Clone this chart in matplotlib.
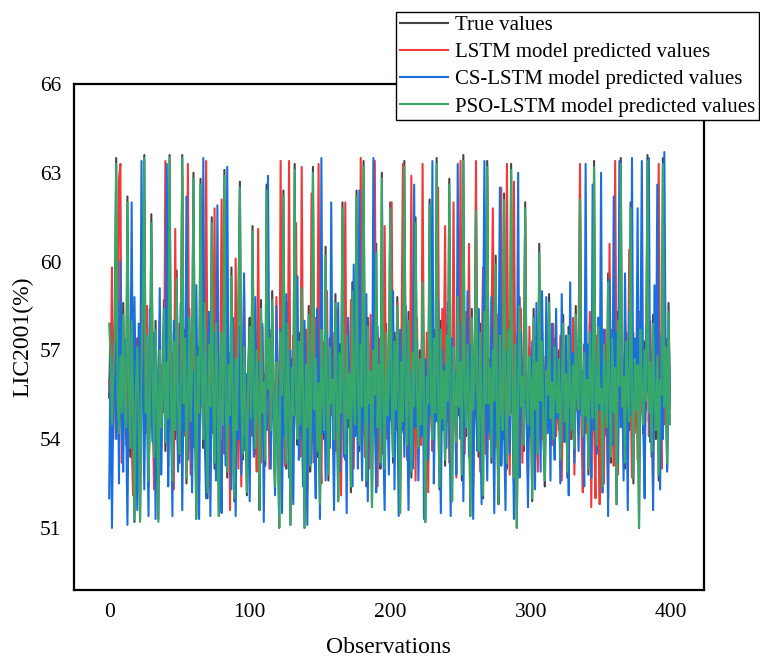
import matplotlib
matplotlib.use("Agg")
import matplotlib.pyplot as plt
import numpy as np

## Data (one decimal)
true_values = [
    55.4, 57.9, 54.2, 56.8, 58.1, 63.5, 55.0, 53.9, 57.2, 54.6, 58.6, 55.3, 54.1, 62.2, 56.0, 53.4, 58.3, 54.8, 51.2, 55.9,
    57.4, 54.3, 51.3, 56.1, 59.2, 63.6, 54.7, 57.8, 52.4, 55.2, 61.6, 56.3, 53.1, 58.0, 55.4, 51.3, 57.3, 54.1, 55.8, 58.7,
    53.6, 56.9, 54.4, 63.6, 55.1, 52.8, 57.6, 54.0, 59.7, 55.6, 53.2, 56.4, 63.6, 54.9, 57.7, 52.5, 55.8, 58.4, 54.3, 56.7,
    63.0, 55.2, 51.3, 57.1, 54.6, 62.8, 56.2, 53.7, 58.9, 55.0, 52.0, 57.5, 54.8, 61.5, 55.6, 53.0, 58.2, 56.4, 51.4, 55.8,
    57.9, 54.2, 63.1, 55.5, 52.7, 56.8, 54.5, 59.8, 55.3, 51.9, 57.0, 54.0, 58.6, 62.7, 55.2, 53.3, 57.4, 54.7, 52.1, 56.5,
    58.1, 54.4, 61.2, 55.9, 53.5, 57.3, 55.0, 51.6, 58.7, 54.6, 56.2, 53.1, 62.6, 55.4, 57.7, 54.0, 59.0, 55.5, 52.3, 56.9,
    54.3, 51.0, 57.9, 55.2, 62.4, 54.8, 53.0, 58.2, 55.6, 51.1, 56.7, 54.5, 63.3, 55.1, 53.8, 57.6, 54.2, 59.4, 55.7, 51.0,
    56.8, 54.1, 58.5, 52.9, 55.4, 63.2, 54.7, 57.0, 53.4, 56.2, 51.8, 58.0, 55.3, 54.0, 60.5, 55.8, 52.6, 57.4, 54.9, 56.3,
    53.7, 58.9, 55.1, 51.9, 57.2, 54.6, 62.0, 55.7, 53.3, 57.8, 54.4, 56.5, 52.2, 59.3, 55.0, 54.2, 62.4, 56.1, 53.6, 57.5,
    54.8, 63.4, 55.5, 52.4, 58.1, 54.9, 56.6, 51.7, 57.3, 55.2, 60.6, 54.1, 56.8, 53.0, 63.0, 55.6, 52.8, 57.9, 54.5, 56.0,
    62.0, 55.3, 53.2, 57.6, 54.7, 58.8, 55.0, 51.5, 56.9, 54.3, 63.4, 55.8, 53.6, 58.3, 55.1, 52.7, 57.2, 54.8, 61.5, 55.4,
    53.5, 57.0, 54.2, 59.6, 55.7, 51.2, 56.4, 54.9, 62.1, 55.2, 53.8, 57.7, 54.6, 63.5, 55.9, 52.3, 58.0, 54.4, 56.6, 53.1,
    57.8, 55.0, 62.8, 54.5, 51.9, 57.4, 55.6, 53.7, 59.1, 54.8, 56.9, 52.6, 63.6, 55.3, 54.1, 57.5, 55.8, 51.4, 58.4, 54.7,
    56.2, 61.9, 55.1, 53.4, 57.9, 54.3, 52.0, 58.6, 55.5, 63.4, 54.9, 56.7, 53.2, 57.3, 55.0, 60.2, 54.6, 51.8, 57.8, 55.4,
    54.0, 62.3, 55.7, 53.0, 58.0, 54.5, 63.3, 56.1, 52.5, 57.5, 51.0, 55.2, 58.8, 54.8, 56.4, 53.6, 62.0, 55.3, 54.2, 57.1,
    55.6, 51.9, 58.4, 54.7, 56.9, 53.3, 60.6, 55.0, 57.6, 54.1, 52.4, 56.6, 55.8, 58.9, 54.4, 56.2, 53.8, 57.4, 55.2, 54.6,
    57.0, 53.1, 55.9, 58.2, 54.3, 56.5, 52.7, 57.8, 55.4, 54.0, 56.8, 53.5, 58.5, 55.1, 54.7, 62.3, 55.8, 53.9, 57.2, 54.5,
    56.3, 52.8, 57.9, 55.2, 54.4, 63.4, 55.7, 53.6, 58.1, 54.9, 56.0, 52.2, 57.5, 55.3, 54.1, 59.6, 55.0, 53.2, 57.7, 54.6,
    56.7, 51.8, 58.3, 55.5, 63.5, 54.8, 56.4, 53.0, 57.6, 55.1, 54.3, 62.0, 55.9, 52.5, 57.0, 54.7, 56.8, 51.0, 58.0, 55.4,
    54.2, 57.3, 55.0, 63.6, 54.6, 56.9, 53.4, 58.2, 55.7, 54.0, 57.1, 52.6, 56.3, 55.2, 63.5, 54.8, 57.4, 53.0, 58.6, 55.2,
]

lstm_values = [
    56.0, 55.2, 59.8, 54.0, 57.0, 58.2, 55.4, 62.8, 63.3, 53.2, 55.8, 57.0, 53.8, 58.6, 54.6, 56.3, 54.0, 52.1, 55.2, 57.4,
    54.6, 55.8, 52.7, 57.0, 55.3, 62.0, 54.2, 58.5, 53.0, 56.1, 59.6, 54.8, 52.3, 57.1, 54.0, 55.9, 58.0, 53.6, 56.5, 54.9,
    63.4, 55.0, 53.1, 58.4, 54.3, 56.9, 52.3, 61.1, 55.0, 53.6, 57.9, 55.2, 62.9, 54.1, 56.6, 53.0, 63.3, 55.4, 52.8, 57.2,
    54.9, 58.6, 53.3, 56.0, 52.6, 60.3, 55.1, 57.4, 54.0, 63.4, 55.7, 52.4, 58.2, 54.7, 56.3, 61.8, 53.6, 57.0, 54.4, 55.6,
    62.1, 55.3, 53.5, 58.0, 54.1, 56.7, 51.6, 57.9, 55.2, 54.0, 60.1, 55.6, 53.0, 57.5, 52.4, 56.2, 59.0, 54.5, 55.8, 53.4,
    57.1, 55.0, 54.1, 58.3, 56.0, 52.9, 61.1, 54.6, 53.2, 57.8, 55.4, 54.3, 58.1, 56.5, 53.0, 57.2, 54.8, 55.9, 53.6, 58.8,
    55.3, 52.6, 63.4, 54.7, 56.9, 53.1, 58.6, 55.0, 63.4, 54.2, 52.0, 57.5, 55.6, 61.3, 54.1, 56.8, 53.4, 63.2, 55.2, 54.0,
    57.7, 52.3, 56.4, 55.0, 62.3, 54.6, 53.2, 58.1, 55.5, 63.3, 54.0, 52.5, 57.3, 55.8, 54.4, 59.0, 53.7, 56.1, 54.8, 57.6,
    55.0, 53.6, 58.4, 54.2, 56.7, 52.1, 57.2, 55.4, 62.0, 53.8, 56.3, 54.7, 58.7, 55.1, 53.0, 57.0, 54.6, 60.6, 55.3, 63.5,
    54.1, 56.8, 53.4, 57.9, 55.6, 53.0, 58.2, 54.5, 56.1, 63.4, 55.0, 52.4, 57.4, 54.8, 56.6, 53.5, 61.2, 55.2, 54.0, 57.7,
    55.5, 62.0, 53.9, 56.4, 54.3, 58.6, 55.1, 52.8, 57.3, 63.3, 54.5, 56.0, 53.3, 57.9, 55.4, 62.9, 54.0, 56.7, 52.6, 58.1,
    54.7, 56.2, 53.8, 63.3, 55.2, 54.1, 57.6, 52.2, 58.9, 55.0, 53.6, 57.2, 54.9, 56.5, 62.5, 54.3, 53.0, 58.4, 55.7, 61.2,
    54.6, 57.0, 53.2, 56.3, 54.8, 62.0, 55.5, 52.7, 57.9, 55.1, 63.4, 54.2, 56.6, 53.5, 58.3, 55.0, 60.6, 54.4, 57.1, 52.4,
    55.9, 63.4, 54.1, 57.3, 52.9, 56.4, 59.8, 54.6, 53.5, 62.9, 55.3, 54.0, 57.7, 61.8, 55.2, 53.7, 58.2, 54.8, 56.0, 62.5,
    54.2, 57.5, 53.0, 63.3, 55.6, 52.8, 58.0, 54.9, 62.7, 55.3, 53.4, 57.0, 54.5, 58.4, 53.2, 56.9, 61.5, 54.7, 52.6, 57.8,
    55.0, 53.4, 57.6, 54.2, 55.8, 52.9, 58.2, 55.4, 54.0, 56.8, 53.6, 57.3, 55.1, 54.4, 56.3, 53.8, 57.9, 55.7, 54.1, 56.1,
    54.3, 57.5, 52.6, 55.9, 54.8, 57.0, 53.3, 56.6, 54.0, 55.5, 58.1, 52.8, 56.4, 55.0, 57.4, 63.3, 54.5, 52.2, 57.0, 54.2,
    55.8, 53.0, 58.3, 51.7, 56.1, 54.6, 52.0, 57.5, 55.2, 51.8, 59.3, 54.3, 52.5, 57.7, 55.0, 52.0, 60.6, 54.7, 56.3, 53.1,
    63.4, 55.4, 52.8, 57.2, 54.6, 56.9, 53.4, 58.0, 55.1, 54.3, 60.4, 55.8, 52.7, 57.6, 54.2, 56.4, 53.3, 58.3, 54.9, 55.6,
    57.0, 53.8, 55.6, 62.5, 54.1, 58.0, 55.2, 52.3, 57.4, 54.7, 56.0, 63.3, 55.4, 53.0, 58.5, 54.5, 56.6, 53.8, 57.3, 55.0,
]

cs_lstm_values = [
    52.0, 56.8, 51.0, 55.6, 57.3, 54.0, 58.6, 52.5, 60.0, 54.6, 52.9, 57.4, 55.0, 51.1, 56.2, 54.4, 62.0, 53.6, 58.8, 55.1,
    51.6, 57.9, 54.2, 63.4, 55.7, 52.3, 56.9, 54.8, 51.4, 58.4, 55.2, 53.9, 57.6, 51.3, 56.3, 54.5, 59.1, 52.8, 55.4, 57.2,
    54.0, 63.3, 52.4, 56.6, 55.1, 51.4, 58.0, 54.6, 56.8, 52.9, 55.5, 58.6, 51.6, 56.0, 54.3, 62.2, 53.3, 57.1, 55.6, 52.2,
    56.3, 53.7, 59.2, 54.8, 51.3, 57.4, 55.2, 63.5, 54.0, 52.0, 56.7, 58.3, 51.4, 55.8, 54.2, 57.6, 52.6, 61.9, 55.0, 53.8,
    51.5, 57.2, 55.4, 53.1, 63.2, 54.5, 56.9, 52.3, 58.1, 55.7, 51.4, 56.4, 54.0, 57.8, 52.8, 55.5, 59.6, 53.6, 56.2, 54.7,
    51.9, 57.5, 55.1, 53.4, 58.8, 54.9, 56.6, 52.5, 55.3, 57.9, 51.2, 56.0, 54.3, 62.9, 55.6, 53.0, 57.1, 54.6, 52.1, 58.5,
    55.2, 53.6, 57.7, 51.5, 56.3, 54.1, 58.9, 55.4, 52.7, 57.0, 54.5, 51.8, 56.6, 55.0, 59.5, 53.3, 56.1, 54.7, 52.4, 58.0,
    54.6, 51.1, 57.3, 55.8, 53.2, 56.9, 54.0, 52.0, 58.4, 55.5, 51.3, 63.5, 54.2, 56.4, 52.6, 57.6, 55.1, 53.7, 62.0, 54.8,
    51.6, 56.7, 54.3, 58.6, 52.9, 55.6, 57.2, 53.4, 56.0, 51.5, 58.1, 54.9, 55.7, 52.4, 59.9, 54.1, 56.8, 53.0, 62.4, 55.3,
    52.6, 57.4, 54.5, 58.9, 51.9, 56.2, 55.0, 53.5, 63.5, 54.7, 52.2, 57.8, 55.4, 53.1, 58.3, 54.0, 51.6, 56.5, 55.2, 52.8,
    57.0, 54.6, 59.0, 52.3, 56.1, 55.3, 51.4, 57.7, 54.2, 56.8, 53.4, 58.5, 54.9, 51.6, 56.3, 55.7, 53.0, 62.6, 54.4, 57.3,
    52.6, 55.9, 54.1, 58.2, 51.3, 56.7, 55.0, 53.3, 57.5, 54.8, 63.4, 52.5, 56.0, 54.6, 58.7, 55.3, 51.5, 57.0, 54.3, 56.5,
    53.7, 58.6, 55.2, 51.4, 57.4, 54.9, 56.2, 52.8, 63.3, 55.5, 54.0, 57.9, 51.9, 56.4, 55.1, 59.0, 53.4, 57.2, 54.5, 51.3,
    56.8, 55.0, 53.6, 58.4, 54.7, 51.8, 57.1, 63.4, 55.3, 52.6, 56.5, 54.2, 58.8, 55.6, 51.5, 57.4, 54.0, 56.2, 62.5, 53.1,
    55.7, 54.4, 51.6, 57.0, 56.1, 53.5, 58.3, 55.0, 51.3, 56.7, 54.5, 63.0, 52.7, 57.6, 55.2, 53.9, 58.0, 54.8, 51.7, 56.4,
    54.1, 57.3, 55.5, 52.3, 58.6, 54.6, 56.0, 52.9, 59.0, 55.4, 53.6, 58.8, 54.2, 56.7, 52.6, 57.9, 55.0, 53.3, 58.4, 54.7,
    56.2, 52.5, 58.9, 55.3, 53.9, 57.5, 55.0, 52.1, 59.3, 54.4, 56.9, 53.2, 58.0, 55.5, 53.6, 57.1, 54.8, 56.3, 52.4, 63.3,
    54.6, 57.2, 55.8, 52.7, 62.6, 54.3, 56.4, 53.5, 58.1, 55.0, 63.0, 52.2, 57.7, 54.9, 56.6, 51.4, 59.4, 55.3, 53.8, 62.2,
    55.1, 57.6, 53.2, 63.4, 54.4, 56.1, 52.6, 59.6, 55.7, 51.6, 58.3, 54.8, 63.5, 53.6, 57.4, 55.2, 61.8, 52.8, 56.9, 63.4,
    54.5, 52.0, 57.8, 55.6, 63.5, 53.9, 56.3, 51.6, 59.2, 54.9, 62.6, 55.4, 52.3, 57.5, 54.0, 63.7, 56.1, 52.9, 58.0, 55.3,
]

pso_lstm_values = [
    57.9, 56.8, 54.5, 56.2, 57.6, 63.3, 55.3, 54.2, 56.8, 54.9, 58.2, 55.0, 54.4, 62.0, 55.7, 53.7, 58.0, 55.1, 51.3, 55.6,
    57.1, 54.6, 51.2, 56.4, 58.9, 63.5, 54.9, 57.5, 52.6, 55.0, 61.3, 56.0, 53.4, 57.7, 55.6, 51.2, 57.0, 54.4, 55.5, 58.4,
    53.9, 56.6, 54.7, 63.5, 55.4, 52.6, 57.3, 54.3, 59.4, 55.3, 53.5, 56.1, 63.5, 55.2, 57.4, 52.7, 55.5, 58.1, 54.6, 56.4,
    62.8, 55.5, 51.3, 56.8, 54.9, 62.6, 55.9, 54.0, 58.6, 55.3, 52.2, 57.2, 55.1, 61.3, 55.3, 53.2, 57.9, 56.1, 51.4, 56.1,
    57.6, 54.5, 62.9, 55.2, 52.9, 56.5, 54.8, 59.5, 55.0, 52.0, 56.7, 54.3, 58.3, 62.5, 55.5, 53.5, 57.1, 55.0, 52.2, 56.2,
    57.8, 54.7, 61.0, 55.6, 53.7, 57.0, 55.3, 51.6, 58.4, 54.9, 55.9, 53.3, 62.4, 55.7, 57.4, 54.3, 58.7, 55.2, 52.4, 56.6,
    54.6, 51.0, 57.6, 55.5, 62.2, 55.1, 53.2, 57.9, 55.3, 51.1, 56.4, 54.8, 63.1, 55.4, 54.0, 57.3, 54.5, 59.1, 55.4, 51.0,
    56.5, 54.4, 58.2, 53.1, 55.7, 63.0, 55.0, 56.7, 53.6, 55.9, 51.8, 57.7, 55.6, 54.3, 60.2, 55.5, 52.8, 57.1, 55.2, 56.0,
    54.0, 58.6, 55.4, 51.9, 56.9, 54.9, 61.8, 55.4, 53.5, 57.5, 54.7, 56.2, 52.4, 59.0, 55.3, 54.5, 62.2, 55.8, 53.8, 57.2,
    55.1, 63.2, 55.2, 52.6, 57.8, 55.2, 56.3, 51.7, 57.0, 55.5, 60.3, 54.4, 56.5, 53.2, 62.8, 55.3, 53.0, 57.6, 54.8, 55.7,
    61.8, 55.6, 53.4, 57.3, 55.0, 58.5, 55.3, 51.5, 56.6, 54.6, 63.2, 55.5, 53.8, 58.0, 55.4, 52.9, 56.9, 55.1, 61.3, 55.7,
    53.7, 56.7, 54.5, 59.3, 55.4, 51.2, 56.1, 55.2, 61.9, 55.5, 54.0, 57.4, 54.9, 63.3, 55.6, 52.4, 57.7, 54.7, 56.3, 53.3,
    57.5, 55.3, 62.6, 54.8, 51.9, 57.1, 55.3, 53.9, 58.8, 55.1, 56.6, 52.8, 63.4, 55.6, 54.4, 57.2, 55.5, 51.4, 58.1, 55.0,
    55.9, 61.7, 55.4, 53.6, 57.6, 54.6, 52.1, 58.3, 55.2, 63.2, 55.2, 56.4, 53.4, 57.0, 55.3, 59.9, 54.9, 51.8, 57.5, 55.1,
    54.3, 62.1, 55.4, 53.2, 57.7, 54.8, 63.1, 55.8, 52.7, 57.2, 51.0, 55.5, 58.5, 55.1, 56.1, 53.8, 61.8, 55.6, 54.5, 56.8,
    55.9, 52.0, 58.1, 55.0, 56.6, 53.5, 60.3, 55.3, 57.3, 54.4, 52.6, 56.3, 55.5, 58.6, 54.7, 55.9, 54.0, 57.1, 55.5, 54.9,
    56.7, 53.3, 55.6, 57.9, 54.6, 56.2, 52.9, 57.5, 55.7, 54.3, 56.5, 53.7, 58.2, 55.4, 55.0, 62.1, 55.5, 54.1, 56.9, 54.8,
    56.0, 53.0, 57.6, 55.5, 54.7, 63.2, 55.4, 53.8, 57.8, 55.2, 55.7, 52.4, 57.2, 55.6, 54.4, 59.3, 55.3, 53.4, 57.4, 54.9,
    56.4, 51.8, 58.0, 55.8, 63.3, 55.1, 56.1, 53.2, 57.3, 55.4, 54.6, 61.8, 55.6, 52.7, 56.7, 55.0, 56.5, 51.0, 57.7, 55.7,
    54.5, 57.0, 55.3, 63.4, 54.9, 56.6, 53.6, 57.9, 55.4, 54.3, 56.8, 52.8, 56.0, 55.5, 63.3, 55.1, 57.1, 53.2, 58.3, 54.5,
]

series_labels = ["True values", "LSTM model predicted values",
                 "CS-LSTM model predicted values", "PSO-LSTM model predicted values"]
y_ticks = [51, 54, 57, 60, 63, 66]
x_ticks = [0, 100, 200, 300, 400]

## Style
plt.rcParams['font.family'] = ['Liberation Serif', 'DejaVu Serif']
colors = ["#454545", "#f03a3a", "#1a6ee0", "#37a86a"]

fig = plt.figure(figsize=(7.6, 6.59), dpi=100)
ax = fig.add_axes([0.0974, 0.1047, 0.8285, 0.7678])

obs = np.arange(len(true_values))
for vals, col, lab in zip([true_values, lstm_values, cs_lstm_values, pso_lstm_values], colors, series_labels):
    ax.plot(obs, vals, color=col, lw=1.5, label=lab)

ax.set_xlim(-25, 423)
ax.set_ylim(48.9, 66)
ax.set_xticks(x_ticks)
ax.set_yticks(y_ticks)
ax.tick_params(length=0, labelsize=15.5, pad=9)
for sp in ax.spines.values():
    sp.set_linewidth(1.6)

ax.set_xlabel("Observations", fontsize=17, labelpad=11)
ax.set_ylabel("LIC2001(%)", fontsize=17, labelpad=5)

leg = fig.legend(loc="upper right", bbox_to_anchor=(0.9987, 0.9818), fontsize=15.0,
                 frameon=True, fancybox=False, framealpha=1, edgecolor="black",
                 handlelength=2.3, handletextpad=0.35, labelspacing=0.36, borderpad=0.18,
                 borderaxespad=0)
leg.get_frame().set_linewidth(1.0)

fig.savefig("out.png", dpi=100)
